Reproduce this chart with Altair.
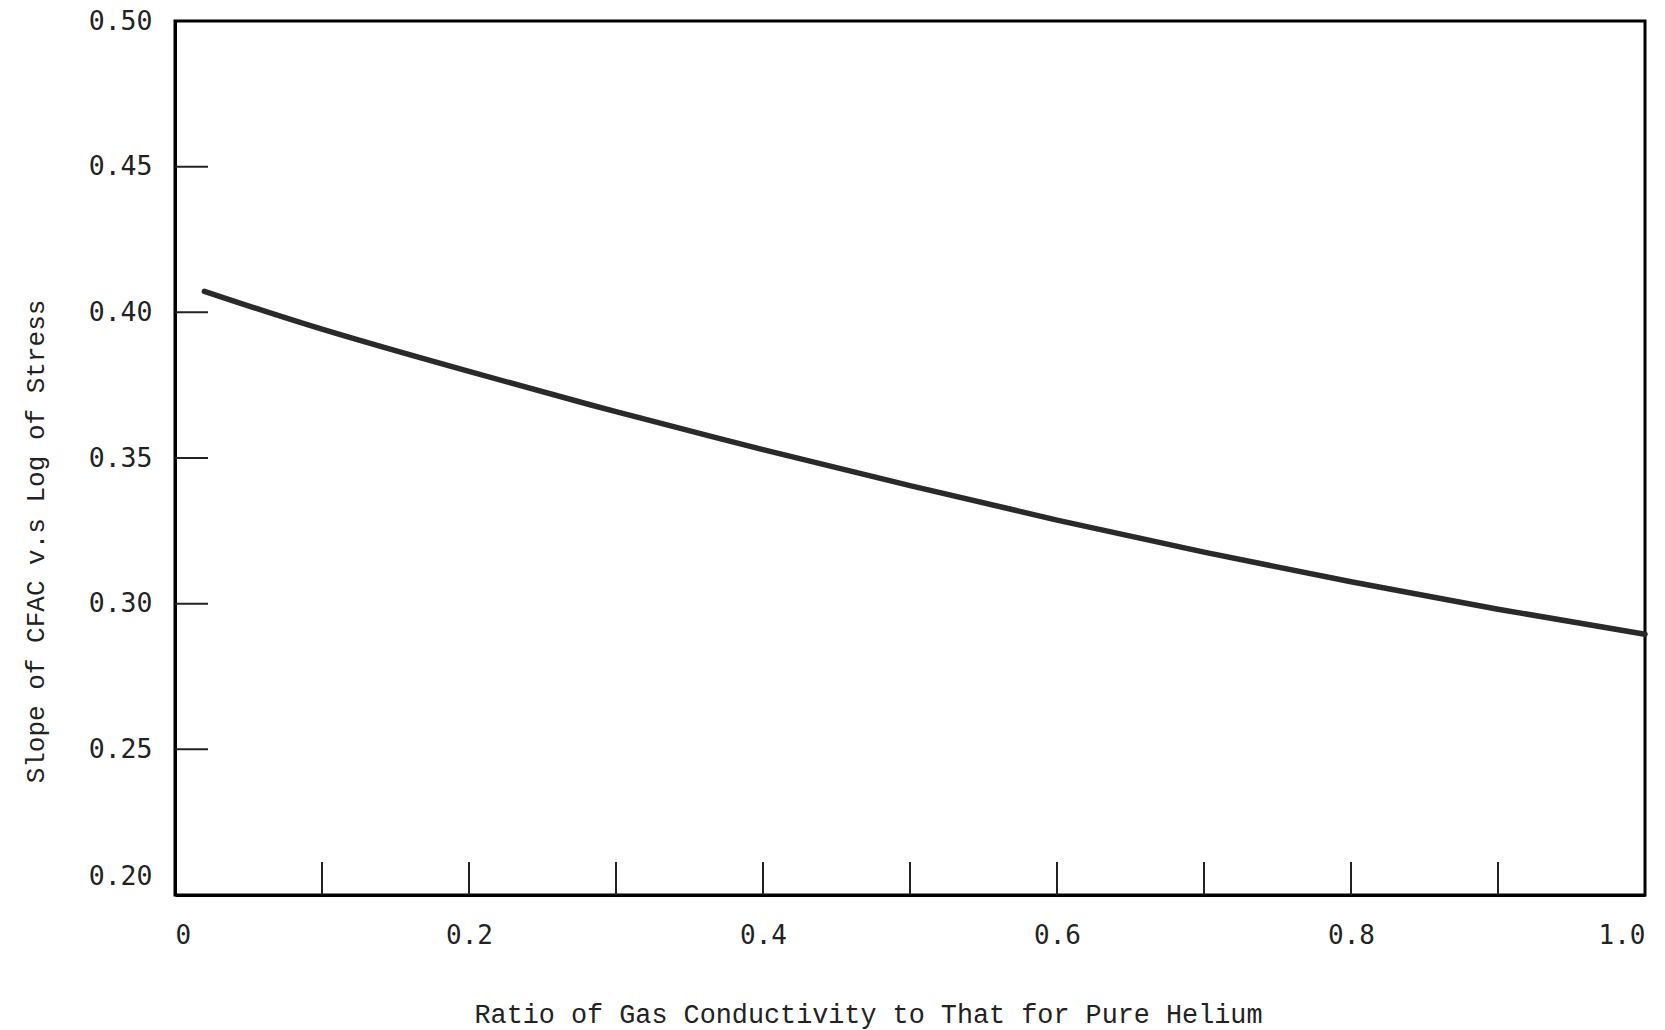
import altair as alt
import pandas as pd

# Curve
ratio = [0.02, 0.1, 0.2, 0.3, 0.4, 0.5, 0.6, 0.7, 0.8, 0.9, 1.0]
slope = [0.4072, 0.3942, 0.3797, 0.3659, 0.3529, 0.3405, 0.3287, 0.3177, 0.3075, 0.2981, 0.2895]

y_label_values = [0.20, 0.25, 0.30, 0.35, 0.40, 0.45, 0.50]
x_label_values = [0.0, 0.2, 0.4, 0.6, 0.8, 1.0]
y_tick_values = [0.25, 0.30, 0.35, 0.40, 0.45]
x_tick_values = [0.1, 0.2, 0.3, 0.4, 0.5, 0.6, 0.7, 0.8, 0.9]

W, H = 1470, 874
TICK = 33

curve_df = pd.DataFrame({"ratio": ratio, "slope": slope})
ytick_df = pd.DataFrame({"slope": y_tick_values})
xtick_df = pd.DataFrame({"ratio": x_tick_values})

xscale = alt.Scale(domain=[0, 1], nice=False, zero=False)
yscale = alt.Scale(domain=[0.2, 0.5], nice=False, zero=False)

x_axis = alt.Axis(
    title="Ratio of Gas Conductivity to That for Pure Helium",
    values=x_label_values,
    labelExpr="datum.value == 0 ? '0' : format(datum.value, '.1f')",
    ticks=False, tickSize=0, grid=False,
    domainColor="black", domainWidth=3,
    labelFont="DejaVu Sans Mono", labelFontSize=26, labelColor="#222",
    labelPadding=27, labelFlush=True,
    titleFont="Liberation Mono", titleFontSize=26.8, titleFontWeight="normal",
    titleColor="#222", titleX=693, titleY=119, titleBaseline="middle",
)
y_axis = alt.Axis(
    title="Slope of CFAC v.s Log of Stress",
    values=y_label_values, format=".2f",
    ticks=False, tickSize=0, grid=False,
    domainColor="black", domainWidth=3,
    labelFont="DejaVu Sans Mono", labelFontSize=26.5, labelColor="#222",
    labelPadding=23,
    labelOffset={"condition": {"test": "datum.value <= 0.2001", "value": -19}, "value": 0},
    titleFont="Liberation Mono", titleFontSize=26, titleFontWeight="normal",
    titleColor="#222", titleX=-140, titleY=520, titleBaseline="middle",
)

curve = alt.Chart(curve_df).mark_line(color="#2a2a2a", strokeWidth=5.5, interpolate="natural", strokeCap="round").encode(
    x=alt.X("ratio:Q", scale=xscale, axis=x_axis),
    y=alt.Y("slope:Q", scale=yscale, axis=y_axis),
)

yticks = alt.Chart(ytick_df).mark_rule(color="#222", strokeWidth=2).encode(
    y=alt.Y("slope:Q", scale=yscale),
    x=alt.value(0),
    x2=alt.value(TICK),
)

xticks = alt.Chart(xtick_df).mark_rule(color="#222", strokeWidth=2).encode(
    x=alt.X("ratio:Q", scale=xscale),
    y=alt.value(H),
    y2=alt.value(H - TICK),
)

chart = alt.layer(yticks, xticks, curve).properties(
    width=W, height=H,
    autosize=alt.AutoSizeParams(type="none"),
    padding={"left": 175, "top": 21, "right": 20, "bottom": 135},
    background="white",
).configure_view(stroke="black", strokeWidth=3)

chart.save("out.html", embed_options={"renderer": "svg", "actions": False})
